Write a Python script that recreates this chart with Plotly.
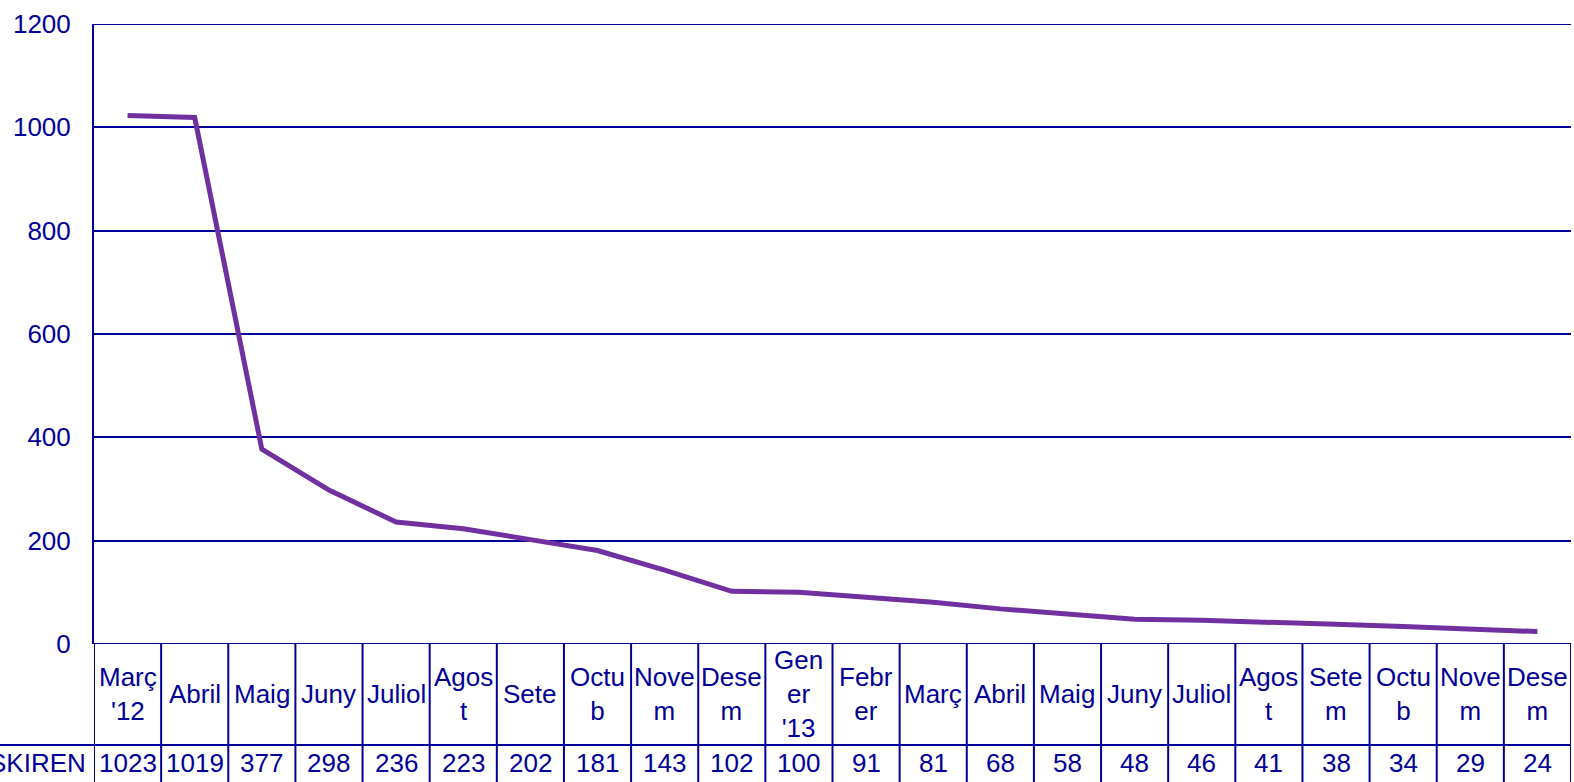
import plotly.graph_objects as go

categories = ["Març<br>'12", "Abril", "Maig", "Juny", "Juliol", "Agos<br>t", "Sete",
              "Octu<br>b", "Nove<br>m", "Dese<br>m", "Gen<br>er<br>'13", "Febr<br>er",
              "Març", "Abril", "Maig", "Juny", "Juliol", "Agos<br>t", "Sete<br>m",
              "Octu<br>b", "Nove<br>m", "Dese<br>m"]
series_name = "SKIREN"
values = [1023, 1019, 377, 298, 236, 223, 202, 181, 143, 102, 100, 91, 81, 68, 58,
          48, 46, 41, 38, 34, 29, 24]
y_ticks = [0, 200, 400, 600, 800, 1000, 1200]

W, H = 1574, 782
ML, MR, MT, MB = 94, 3, 24, 138
plot_h = H - MT - MB
navy = "#000099"
purple = "#7030A0"
font_family = "Liberation Sans, Arial, sans-serif"
fs = 26

n = len(categories)
xs = list(range(n))

fig = go.Figure()
fig.add_trace(go.Scatter(x=xs, y=values, mode="lines", name=series_name,
                         line=dict(color=purple, width=5), showlegend=False,
                         hoverinfo="y"))

def py(px_from_bottom_of_plot):
    return -px_from_bottom_of_plot / plot_h

row1_bottom = py(101)
row2_center = py(119)
row1_center = py(50)
bottom = py(MB + 5)

shapes = []
for edge in (y_ticks[0], y_ticks[-1]):
    shapes.append(dict(type="line", xref="paper", yref="y", x0=0, x1=1,
                       y0=edge, y1=edge, line=dict(color=navy, width=2)))
for i in range(n + 1):
    shapes.append(dict(type="line", xref="x", yref="paper", x0=i - 0.5, x1=i - 0.5,
                       y0=0, y1=bottom, line=dict(color=navy, width=2)))
shapes.append(dict(type="line", xref="paper", yref="paper", x0=-ML / (W - ML - MR), x1=1,
                   y0=row1_bottom, y1=row1_bottom, line=dict(color=navy, width=2)))

annotations = []
for i, (c, v) in enumerate(zip(categories, values)):
    annotations.append(dict(x=i, y=row1_center, xref="x", yref="paper", text=c,
                            showarrow=False, yanchor="middle", xanchor="center",
                            font=dict(size=fs, color=navy, family=font_family)))
    annotations.append(dict(x=i, y=row2_center, xref="x", yref="paper", text=str(v),
                            showarrow=False, yanchor="middle", xanchor="center",
                            font=dict(size=fs, color=navy, family=font_family)))
annotations.append(dict(x=-0.5, y=row2_center, xref="x", yref="paper", text=series_name,
                        showarrow=False, yanchor="middle", xanchor="right", xshift=-6,
                        font=dict(size=fs, color=navy, family=font_family)))

fig.update_layout(
    width=W, height=H,
    margin=dict(l=ML, r=MR, t=MT, b=MB, pad=0),
    paper_bgcolor="white", plot_bgcolor="white",
    font=dict(family=font_family, size=fs, color=navy),
    xaxis=dict(range=[-0.5, n - 0.5], showticklabels=False, showgrid=False,
               zeroline=False, showline=False, ticks=""),
    yaxis=dict(range=[0, 1200], tickvals=y_ticks, showgrid=True, gridcolor=navy,
               gridwidth=2, zeroline=False, showline=True, linecolor=navy, linewidth=2,
               ticks="", ticklabelstandoff=16,
               tickfont=dict(size=fs, color=navy, family=font_family)),
    shapes=shapes, annotations=annotations,
)

fig.write_html("out.html")
